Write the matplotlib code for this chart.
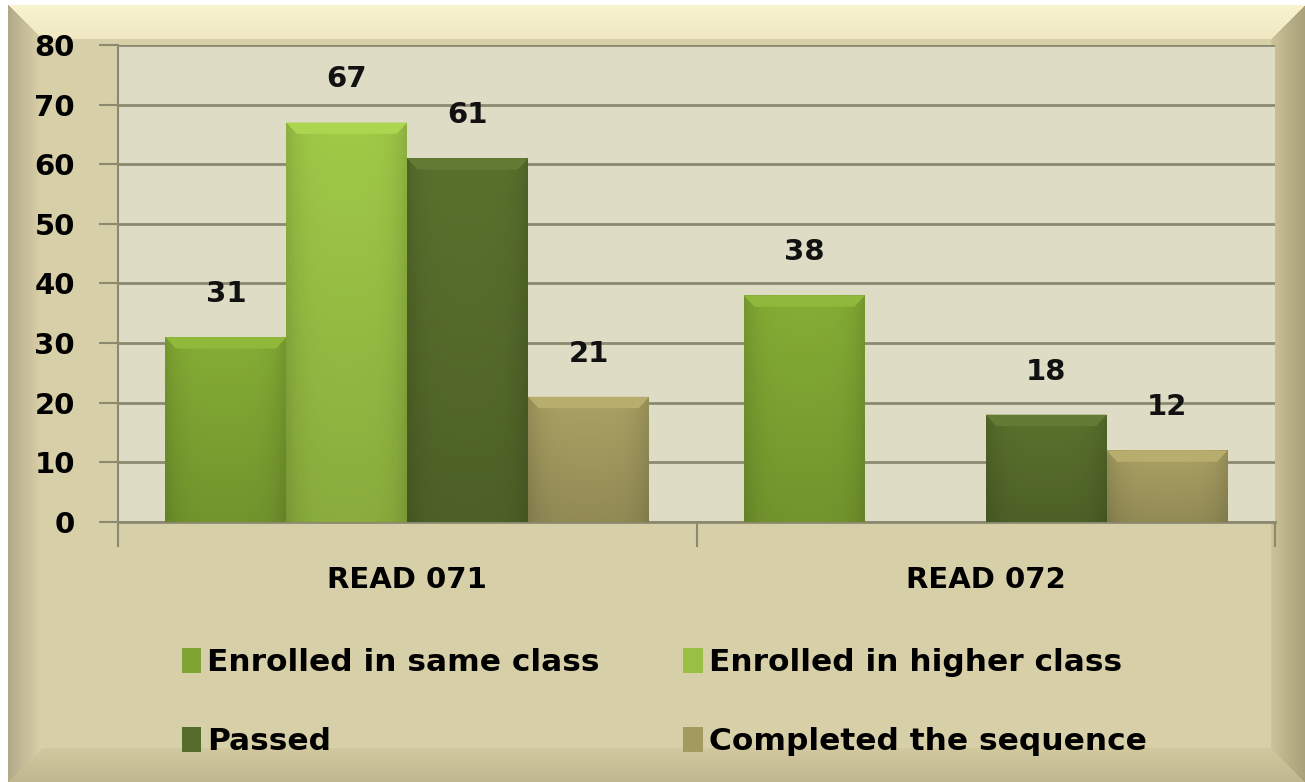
import matplotlib
matplotlib.use('agg')
import matplotlib.pyplot as plt
from matplotlib.patches import Patch, Polygon
from matplotlib.colors import to_rgb
import numpy as np

plt.rcParams['font.family'] = ['DejaVu Sans']
plt.rcParams['font.weight'] = 'bold'

categories = ['READ 071', 'READ 072']
series = ['Enrolled in same class', 'Enrolled in higher class',
          'Passed', 'Completed the sequence']
values = {
    'Enrolled in same class': [31, 38],
    'Enrolled in higher class': [67, np.nan],
    'Passed': [61, 18],
    'Completed the sequence': [21, 12],
}
colors = {
    'Enrolled in same class': '#7fa532',
    'Enrolled in higher class': '#99c044',
    'Passed': '#566c2b',
    'Completed the sequence': '#a39a5f',
}
yticks = [0, 10, 20, 30, 40, 50, 60, 70, 80]

W, H = 1305, 782
fig = plt.figure(figsize=(W / 100, H / 100), dpi=100)

# background with bevelled frame
bg = fig.add_axes([0, 0, 1, 1], zorder=-5)
bg.set_axis_off()
yy, xx = np.mgrid[0:H, 0:W]
base = np.array(to_rgb('#d7cfa7'))
img = np.ones((H, W, 3)) * base
d_left = xx - 8
d_top = yy - 5
d_right = (W - 1) - xx
d_bot = (H - 1) - yy
bw = 34.0
dist = np.stack([d_left, d_top, d_right, d_bot])
side = np.argmin(dist, axis=0)
dmin = np.min(dist, axis=0)
edge_cols = [np.array(to_rgb(c)) for c in ('#b2a988', '#f8f3d0', '#a99f78', '#c0b790')]
inner_cols = [np.array(to_rgb(c)) for c in ('#dbd2ab', '#efe8c2', '#cdc49b', '#d2c9a0')]
t = np.clip(dmin / bw, 0, 1)[..., None]
for s in range(4):
    m = (side == s) & (dmin < bw)
    blend = edge_cols[s] * (1 - t) + inner_cols[s] * t
    img[m] = blend[m]
img[(xx < 8) | (yy < 5)] = 1.0
bg.imshow(img, aspect='auto', extent=(0, 1, 0, 1), transform=bg.transAxes)
bg.set_xlim(0, 1)
bg.set_ylim(0, 1)

ax = fig.add_axes([118 / W, 1 - 522 / H, (1275 - 118) / W, (522 - 45) / H])
ax.set_facecolor('#dfdcc6')

x = np.arange(len(categories))
n = len(series)
bar_w = 0.209
for i, s in enumerate(series):
    pos = x + (i - (n - 1) / 2) * bar_w
    vals = np.array(values[s], dtype=float)
    bars = ax.bar(pos, np.nan_to_num(vals), bar_w, color=colors[s],
                  zorder=3, linewidth=0)
    c = np.array(to_rgb(colors[s]))
    for b, v in zip(bars, vals):
        if np.isnan(v):
            b.set_visible(False)
            continue
        x0, w, h = b.get_x(), b.get_width(), b.get_height()
        gy = np.linspace(1.05, 0.9, 60)[:, None]
        gx = 1 - 0.12 * np.abs(np.linspace(-1, 1, 40))[None, :] ** 4
        grad = np.clip(c[None, None, :] * (gy * gx)[..., None], 0, 1)
        im = ax.imshow(grad, extent=(x0, x0 + w, 0, h), aspect='auto',
                       zorder=3.5, origin='upper')
        im.set_clip_path(b)
        bh = 1.9
        dx = 0.018
        hl = np.clip(c * 1.09 + 0.02, 0, 1)
        ax.add_patch(Polygon([(x0, h), (x0 + w, h), (x0 + w - dx, h - bh),
                              (x0 + dx, h - bh)], closed=True,
                             facecolor=hl, edgecolor='none', zorder=4))
        ax.annotate(f'{int(v)}', xy=(x0 + w / 2, h), xytext=(0, 31),
                    textcoords='offset points', ha='center', va='center',
                    fontsize=21, fontweight='bold', color='#111111')

ax.set_xlim(-0.5, 1.5)
ax.set_ylim(0, 80)
ax.set_yticks(yticks)
ax.yaxis.grid(True, color='#8b8970', linewidth=2, zorder=0)
ax.set_axisbelow(True)
ax.tick_params(axis='y', length=14, width=1.5, color='#8b8970',
               labelsize=21, pad=17)
for lab in ax.get_yticklabels():
    lab.set_fontweight('bold')

ax.set_xticks([-0.5, 0.5, 1.5])
ax.set_xticklabels([])
ax.tick_params(axis='x', which='major', length=18, width=1.5,
               color='#8b8970')
ax.set_xticks(x, minor=True)
ax.set_xticklabels(categories, minor=True, fontsize=21, fontweight='bold')
ax.tick_params(axis='x', which='minor', length=0, pad=32)

for k in ('top', 'right'):
    ax.spines[k].set_visible(False)
ax.spines['left'].set_color('#8b8970')
ax.spines['left'].set_linewidth(1.5)
ax.spines['bottom'].set_color('#8b8970')
ax.spines['bottom'].set_linewidth(2)

# legend fills column-major, so interleave to get row-major order
order = [0, 2, 1, 3]
handles = [Patch(facecolor=colors[series[k]], edgecolor='none') for k in order]
labels = [series[k] for k in order]
fig.legend(handles, labels, ncol=2, loc='upper left',
           bbox_to_anchor=(166 / W, 1 - 632 / H), frameon=False,
           prop={'size': 22.5, 'weight': 'bold'},
           handlelength=0.62, handleheight=0.85, handletextpad=0.2,
           columnspacing=2.67, labelspacing=1.6, borderpad=0)

fig.savefig('out.png', dpi=100)
